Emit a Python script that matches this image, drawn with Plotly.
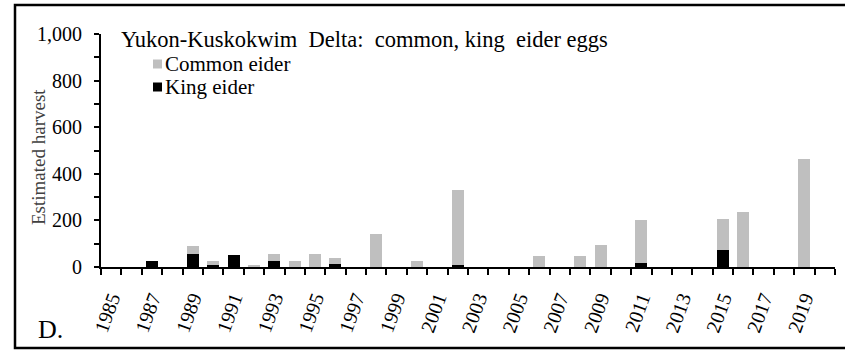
import plotly.graph_objects as go

# Yukon-Kuskokwim Delta egg harvest estimates, 1985-2020
years = list(range(1985, 2021))
common_eider = [0, 0, 0, 0, 33, 14, 0, 7, 33, 24, 57, 26, 0, 140, 0, 24, 0, 325,
                0, 0, 0, 46, 0, 46, 95, 0, 181, 0, 0, 0, 134, 238, 0, 0, 463, 0]
king_eider = [0, 0, 24, 0, 57, 10, 51, 0, 24, 0, 0, 14, 0, 0, 0, 0, 0, 7,
              0, 0, 0, 0, 0, 0, 0, 0, 19, 0, 0, 0, 71, 0, 0, 0, 0, 0]
label_years = years[::2]

W, H = 845, 351
L, R, T, B = 101, 10, 34, 84
PW, PH = W - L - R, H - T - B


def px(x):
    return (x - L) / PW


def py(y):
    return (H - B - y) / PH


FONT = "Liberation Serif, Times New Roman, serif"

fig = go.Figure()
fig.add_trace(go.Bar(x=years, y=king_eider, name="King eider",
                     marker=dict(color="#000000", line=dict(width=0))))
fig.add_trace(go.Bar(x=years, y=common_eider, name="Common eider",
                     marker=dict(color="#BFBFBF", line=dict(width=0))))

fig.update_layout(
    width=W, height=H,
    margin=dict(l=L, r=R, t=T, b=B),
    barmode="stack", bargap=0.41,
    plot_bgcolor="white", paper_bgcolor="white",
    showlegend=False,
    font=dict(family=FONT, color="black", size=20),
)

fig.update_xaxes(
    range=[years[0] - 0.5, years[-1] + 0.5],
    tickmode="array", tickvals=label_years, ticktext=[str(y) for y in label_years],
    ticks="", tickangle=-70, tickfont=dict(size=20, family=FONT),
    ticklabelstandoff=10,
    minor=dict(tickmode="array", tickvals=[y - 0.5 for y in years] + [years[-1] + 0.5],
               ticks="outside", ticklen=6, tickwidth=2, tickcolor="black"),
    showline=True, linecolor="black", linewidth=2,
    showgrid=False, zeroline=False, fixedrange=True,
)
fig.update_yaxes(
    range=[0, 1000], dtick=200, tickformat=",",
    ticks="outside", ticklen=5, tickwidth=2, tickcolor="black",
    minor=dict(dtick=100, ticks="outside", ticklen=5, tickwidth=2, tickcolor="black"),
    tickfont=dict(size=20, family=FONT), ticklabelstandoff=8,
    showline=True, linecolor="black", linewidth=2,
    showgrid=False, zeroline=False,
)

# axis title, set close to the tick labels
fig.add_annotation(text="Estimated harvest", xref="paper", yref="paper",
                   x=px(38), y=py(157), textangle=-90, showarrow=False,
                   xanchor="center", yanchor="middle",
                   font=dict(size=19, color="#404040", family=FONT))

# outer frame
fig.add_shape(type="rect", xref="paper", yref="paper",
              x0=px(15), x1=px(860), y0=py(348), y1=py(5),
              line=dict(color="black", width=2.5), layer="below")

# heading
fig.add_annotation(text="Yukon-Kuskokwim\u00a0\u00a0Delta:\u00a0\u00a0common, king\u00a0\u00a0eider eggs",
                   xref="paper", yref="paper", x=px(119), y=py(40),
                   xanchor="left", yanchor="middle", showarrow=False,
                   font=dict(size=22.5, family=FONT))

# legend
for name, color, ypix in [("Common eider", "#BFBFBF", 64), ("King eider", "#000000", 87)]:
    fig.add_shape(type="rect", xref="paper", yref="paper",
                  x0=px(153), x1=px(162), y0=py(ypix + 4.5), y1=py(ypix - 4.5),
                  fillcolor=color, line=dict(width=0))
    fig.add_annotation(text=name, xref="paper", yref="paper", x=px(163), y=py(ypix),
                       xanchor="left", yanchor="middle", showarrow=False,
                       font=dict(size=21, family=FONT))

# panel letter
fig.add_annotation(text="D.", xref="paper", yref="paper", x=px(36), y=py(329),
                   xanchor="left", yanchor="middle", showarrow=False,
                   font=dict(size=26, family=FONT))

fig.write_html("out.html")
